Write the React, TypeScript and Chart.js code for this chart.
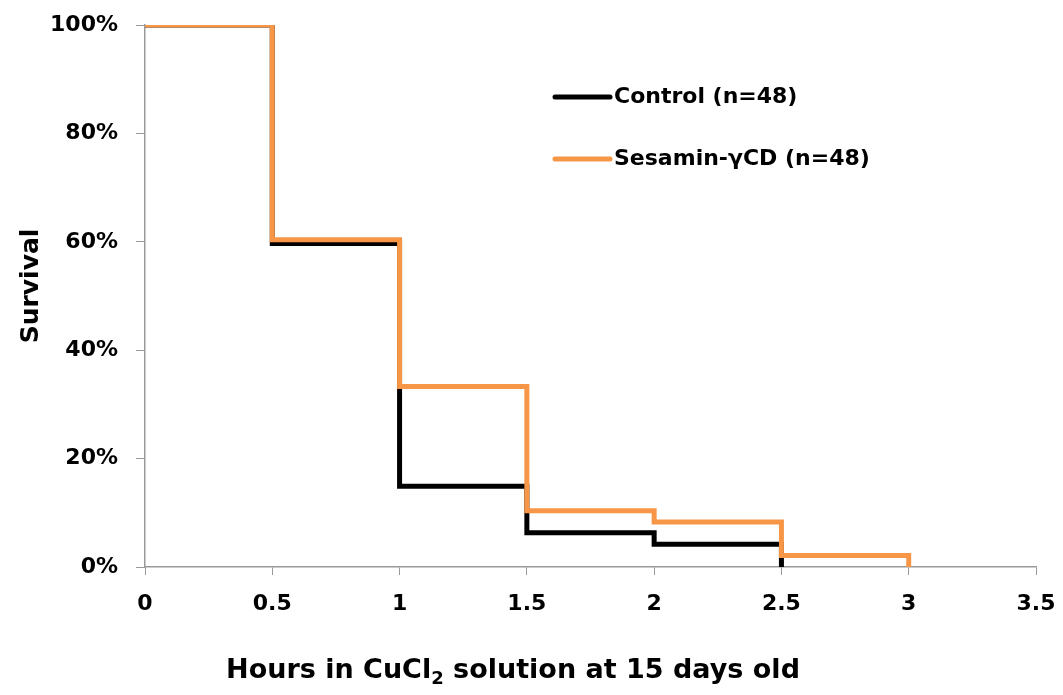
import React, { useEffect, useRef } from "react";
import { Chart, registerables } from "chart.js";

Chart.register(...registerables);

const controlHours = [0, 0.5, 1, 1.5, 2, 2.5];
const controlSurvival = [1, 0.597, 0.149, 0.063, 0.042, 0];
const sesaminHours = [0, 0.5, 1, 1.5, 2, 2.5, 3];
const sesaminSurvival = [1, 0.604, 0.333, 0.104, 0.083, 0.021, 0];
const seriesLabels = ["Control (n=48)", "Sesamin-γCD (n=48)"];
const seriesColors = ["#000000", "#F79646"];
const yTickStep = 0.2;
const xTickStep = 0.5;

const FONT = "'DejaVu Sans', sans-serif";

const overlayPlugin = {
  id: "overlay",
  afterDraw(chart: any) {
    const ctx = chart.ctx;
    ctx.save();
    // legend
    const lx = 555, lw = 55;
    const ly = [97, 159];
    chart.data.datasets.forEach((ds: any, i: number) => {
      ctx.strokeStyle = ds.borderColor;
      ctx.lineWidth = 5;
      ctx.lineCap = "round";
      ctx.beginPath();
      ctx.moveTo(lx, ly[i]);
      ctx.lineTo(lx + lw, ly[i]);
      ctx.stroke();
      ctx.fillStyle = "#000";
      ctx.font = `bold 22px ${FONT}`;
      ctx.textBaseline = "middle";
      ctx.textAlign = "left";
      ctx.fillText(ds.label, lx + lw + 4, ly[i]);
    });
    // y title
    ctx.save();
    ctx.translate(31, 286);
    ctx.rotate(-Math.PI / 2);
    ctx.font = `bold 25px ${FONT}`;
    ctx.textAlign = "center";
    ctx.textBaseline = "middle";
    ctx.fillText("Survival", 0, 0);
    ctx.restore();
    // x title with subscript
    const parts = [
      { t: "Hours in CuCl", sub: false },
      { t: "2", sub: true },
      { t: " solution at 15 days old", sub: false },
    ];
    const big = `bold 27px ${FONT}`;
    const small = `bold 18px ${FONT}`;
    let total = 0;
    parts.forEach((p) => {
      ctx.font = p.sub ? small : big;
      total += ctx.measureText(p.t).width;
    });
    let x = 513 - total / 2;
    const y = 671;
    ctx.textAlign = "left";
    ctx.textBaseline = "middle";
    parts.forEach((p) => {
      ctx.font = p.sub ? small : big;
      ctx.fillText(p.t, x, p.sub ? y + 8 : y);
      x += ctx.measureText(p.t).width;
    });
    ctx.restore();
  },
};

export default function App() {
  const ref = useRef<HTMLCanvasElement>(null);
  useEffect(() => {
    document.body.style.margin = "0";
    const ctrl = controlHours.map((h, i) => ({ x: h, y: controlSurvival[i] }));
    const ses = sesaminHours.map((h, i) => ({ x: h, y: sesaminSurvival[i] }));
    const chart = new Chart(ref.current!, {
      type: "line",
      data: {
        datasets: [
          {
            label: seriesLabels[0],
            data: ctrl,
            borderColor: seriesColors[0],
            backgroundColor: seriesColors[0],
            borderWidth: 5,
            stepped: "before",
            pointRadius: 0,
            fill: false,
            order: 2,
          },
          {
            label: seriesLabels[1],
            data: ses,
            borderColor: seriesColors[1],
            backgroundColor: seriesColors[1],
            borderWidth: 5,
            stepped: "before",
            pointRadius: 0,
            fill: false,
            order: 1,
          },
        ],
      },
      options: {
        responsive: false,
        animation: false,
        layout: { padding: { top: 25, right: 27, left: 0, bottom: 0 } },
        plugins: { legend: { display: false }, tooltip: { enabled: false } },
        scales: {
          x: {
            type: "linear",
            min: 0,
            max: 3.5,
            afterFit: (s: any) => {
              s.height = 128;
              s.paddingLeft = 0;
              s.paddingRight = 0;
              s.paddingTop = 0;
              s.paddingBottom = 0;
            },
            grid: { drawOnChartArea: false, drawTicks: true, tickLength: 8, color: "#999" },
            border: { color: "#999", width: 1.5 },
            ticks: {
              stepSize: xTickStep,
              padding: 16,
              color: "#000",
              font: { family: FONT, size: 22, weight: "bold" },
              maxRotation: 0,
              callback: (v: any) => String(Number(v)),
            },
          },
          y: {
            min: 0,
            max: 1,
            afterFit: (s: any) => {
              s.width = 145;
              s.paddingLeft = 0;
              s.paddingRight = 0;
              s.paddingTop = 0;
              s.paddingBottom = 0;
            },
            grid: { drawOnChartArea: false, drawTicks: true, tickLength: 9, color: "#999" },
            border: { color: "#999", width: 1.5 },
            ticks: {
              stepSize: yTickStep,
              padding: 18,
              color: "#000",
              font: { family: FONT, size: 22, weight: "bold" },
              callback: (v: any) => `${Math.round(Number(v) * 100)}%`,
            },
          },
        },
      },
      plugins: [overlayPlugin],
    });
    return () => chart.destroy();
  }, []);
  return <canvas ref={ref} width={1063} height={695} style={{ display: "block" }} />;
}
